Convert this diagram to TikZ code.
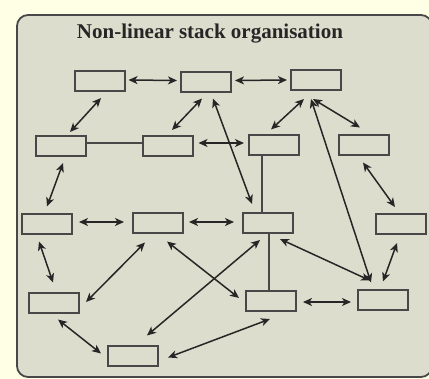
\documentclass[tikz,border=0pt]{standalone}
\usepackage{fontspec}
\setmainfont{Liberation Serif}
\usetikzlibrary{arrows.meta,calc}
\definecolor{cream}{HTML}{FFFFE6}
\definecolor{panel}{HTML}{DDDDCE}
\definecolor{ink}{HTML}{262626}
\definecolor{boxline}{HTML}{484848}
\tikzset{
  stackbox/.style={draw=boxline,line width=2pt,fill=panel,minimum width=50pt,minimum height=20pt,inner sep=0pt},
  link/.style={draw=ink,line width=1.5pt},
  plain/.style={draw=boxline,line width=1.1pt},
  dbl/.style={link,{Stealth[length=9pt,width=8pt,inset=2.5pt]}-{Stealth[length=9pt,width=8pt,inset=2.5pt]}},
}
\begin{document}
\begin{tikzpicture}[x=1pt,y=-1pt]
\useasboundingbox (0,0) rectangle (429,379);
\fill[cream] (0,0) rectangle (429,379);
\draw[fill=panel,draw=boxline,line width=1.8pt,rounded corners=11pt] (17,15) rectangle (432,377);
\node[font=\bfseries\fontsize{21}{22}\selectfont,text=ink] (T) at (210,34) {Non-linear stack organisation};
% boxes
\node[stackbox] (A) at (99.5,81) {};
\node[stackbox] (B) at (206,82.5) {};
\node[stackbox] (C) at (316,80) {};
\node[stackbox] (D) at (61,146) {};
\node[stackbox] (E) at (167.5,146) {};
\node[stackbox] (F) at (274,145.5) {};
\node[stackbox] (G) at (364,145.5) {};
\node[stackbox] (H) at (47,224.5) {};
\node[stackbox] (I) at (158,223.5) {};
\node[stackbox] (J) at (268,223) {};
\node[stackbox] (K) at (401,224) {};
\node[stackbox] (L) at (54,303.5) {};
\node[stackbox] (M) at (271,301) {};
\node[stackbox] (N) at (383,300.5) {};
\node[stackbox] (O) at (133,356.5) {};
% connectors
\draw[dbl] ($(A.east)+(3,-1)$) -- ($(B.west)+(-3,-2)$);
\draw[dbl] ($(B.east)+(3,-2)$) -- ($(C.west)+(-3,0)$);
\draw[dbl] ($(A.south)+(1.5,6)$) -- ($(D.north)+(9,-3)$);
\draw[dbl] ($(B.south)+(-4,5)$) -- ($(E.north)+(4.5,-5)$);
\draw[dbl] ($(B.south)+(7,5)$) -- ($(J.north)+(-16,-8)$);
\draw[dbl] ($(C.south)+(-12,8)$) -- ($(F.north)+(-3,-5)$);
\draw[dbl] ($(C.south)+(-3,8)$) -- ($(G.north)+(-4,-7)$);
\draw[dbl] ($(C.south)+(-5,8)$) -- ($(N.north)+(-12,-7)$);
\draw[plain] ($(D.east)+(0,-3)$) -- ($(E.west)+(0,-3)$);
\draw[dbl] ($(E.east)+(5,-3)$) -- ($(F.west)+(-4,-2.5)$);
\draw[plain] ($(F.south)+(-12,0)$) -- ($(J.north)+(-6,0)$);
\draw[dbl] ($(G.south)+(-1,6)$) -- ($(K.north)+(-6,-6)$);
\draw[dbl] ($(D.south)+(2,6)$) -- ($(H.north)+(0,-7)$);
\draw[dbl] ($(H.east)+(6,-2.5)$) -- ($(I.west)+(-8,-1.5)$);
\draw[dbl] ($(I.east)+(5,-1.5)$) -- ($(J.west)+(-8,-1)$);
\draw[dbl] ($(H.south)+(-8,6)$) -- ($(L.north)+(-1,-10)$);
\draw[dbl] ($(I.south)+(-13,8)$) -- ($(L.east)+(6,-1.5)$);
\draw[dbl] ($(I.south)+(9,7)$) -- ($(M.west)+(-6,-3)$);
\draw[dbl] ($(J.south)+(-8,6)$) -- ($(O.north)+(14,-10)$);
\draw[plain] ($(J.south)+(1,0)$) -- ($(M.north)+(-2,0)$);
\draw[dbl] ($(J.south)+(12,5)$) -- ($(N.north)+(-13,-9)$);
\draw[dbl] ($(K.south)+(-4,8)$) -- ($(N.north)+(0,-8)$);
\draw[dbl] ($(M.east)+(6,1)$) -- ($(N.west)+(-6,1.5)$);
\draw[dbl] ($(L.south)+(4,5)$) -- ($(O.west)+(-6,-3)$);
\draw[dbl] ($(M.south)+(-1,7)$) -- ($(O.east)+(9,1)$);
\end{tikzpicture}
\end{document}
